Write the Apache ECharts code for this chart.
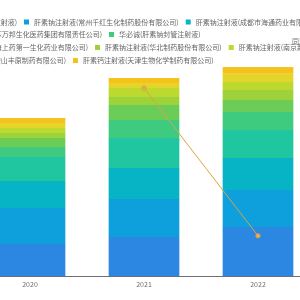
<!DOCTYPE html>
<html>
<head>
<meta charset="utf-8">
<script src="https://cdn.jsdelivr.net/npm/echarts@6/dist/echarts.min.js"></script>
<style>
  html, body { margin: 0; padding: 0; overflow: hidden; background: #fff; }
  #wrap { position: relative; width: 300px; height: 300px; overflow: hidden; }
  /* the chart is wider than the window: only its middle part shows */
  #chart { position: absolute; left: -200px; top: 0; width: 600px; height: 300px; }
</style>
</head>
<body>
<div id="wrap"><div id="chart"></div></div>
<script>
const years = ['2020', '2021', '2022']

const productNames = [
  '其他(肝素钠封管注射液)',
  '肝素钠注射液(常州千红生化制药股份有限公司)',
  '肝素钠注射液(成都市海通药业有限公司)',
  '肝素钠注射液(江苏万邦生化医药集团有限责任公司)',
  '华必诚(肝素钠封管注射液)',
  '肝素钠注射液(上海上药第一生化药业有限公司)',
  '肝素钠注射液(华北制药股份有限公司)',
  '肝素钠注射液(南京新百药业有限公司)',
  '肝素钠注射液(马鞍山丰原制药有限公司)',
  '肝素钙注射液(天津生物化学制药有限公司)'
]

// sales by product, one value per year
const salesOther = [359, 437, 549]
const salesChangzhou = [404, 426, 415]
const salesChengdu = [303, 348, 359]
const salesWanbang = [269, 336, 314]
const salesHuabicheng = [112, 202, 202]
const salesShangyao = [101, 168, 135]
const salesHuabei = [56, 90, 112]
const salesNanjing = [56, 101, 90]
const salesMaanshan = [56, 56, 90]
const salesTianjin = [56, 56, 78]

const growthRate = [null, 25.3, 5.4]

const salesByProduct = [
  salesOther, salesChangzhou, salesChengdu, salesWanbang, salesHuabicheng,
  salesShangyao, salesHuabei, salesNanjing, salesMaanshan, salesTianjin
]

const colors = [
  '#2b87e2', '#0ea0dc', '#07b4c6', '#1fc6a0', '#3ecb80',
  '#6ccc58', '#9dd23a', '#bcd930', '#e5d52a', '#f4c21a'
]

const FONT = "'Noto Sans CJK SC', sans-serif"
const FONT_SIZE = 7
const ICON = 5
const GAP = 7

// legend rows: which products, and where the second item's icon sits
const legendRows = [
  { items: [0, 1, 2], anchor: 224, top: 18.5 },
  { items: [3, 4], anchor: 309, top: 31 },
  { items: [5, 6, 7], anchor: 295, top: 44 },
  { items: [8, 9], anchor: 273, top: 57 }
]

const ctx = document.createElement('canvas').getContext('2d')
ctx.font = `${FONT_SIZE}px ${FONT}`
const rowLeft = (first, anchor) =>
  anchor - (ICON + 5 + ctx.measureText(first).width + GAP)

const chart = echarts.init(document.getElementById('chart'))

const option = {
  animation: false,
  legend: legendRows.map(row => ({
    data: row.items.map(i => productNames[i]),
    left: rowLeft(productNames[row.items[0]], row.anchor),
    top: row.top,
    width: 1000,
    padding: 0,
    icon: 'rect',
    itemWidth: ICON,
    itemHeight: ICON,
    itemGap: GAP,
    textStyle: { fontSize: FONT_SIZE, color: '#666', fontFamily: FONT }
  })),
  grid: {
    left: 173,
    right: 85,
    top: 53,
    bottom: 24
  },
  xAxis: {
    type: 'category',
    data: years,
    axisLine: { lineStyle: { color: '#6e7079' } },
    axisTick: { length: 3 },
    axisLabel: { fontSize: FONT_SIZE, color: '#6e7079', margin: 5, fontFamily: FONT }
  },
  yAxis: [
    {
      type: 'value',
      min: 0,
      max: 2500,
      splitLine: { show: false },
      axisLabel: { fontSize: FONT_SIZE }
    },
    {
      type: 'value',
      name: '同比增长率(%)',
      nameGap: 8,
      nameTextStyle: { fontSize: FONT_SIZE, color: '#6e7079', fontFamily: FONT },
      min: 0,
      max: 30,
      splitLine: { show: false },
      axisLabel: { fontSize: FONT_SIZE }
    }
  ],
  series: [
    ...salesByProduct.map((values, i) => ({
      name: productNames[i],
      type: 'bar',
      stack: 'sales',
      barWidth: '62%',
      data: values,
      itemStyle: { color: colors[i] }
    })),
    {
      name: '同比增长率',
      type: 'line',
      yAxisIndex: 1,
      data: growthRate,
      symbol: 'emptyCircle',
      symbolSize: 3,
      lineStyle: { color: '#d9a441', width: 1 },
      itemStyle: { color: '#d9a441' }
    }
  ]
}

chart.setOption(option)
</script>
</body>
</html>
